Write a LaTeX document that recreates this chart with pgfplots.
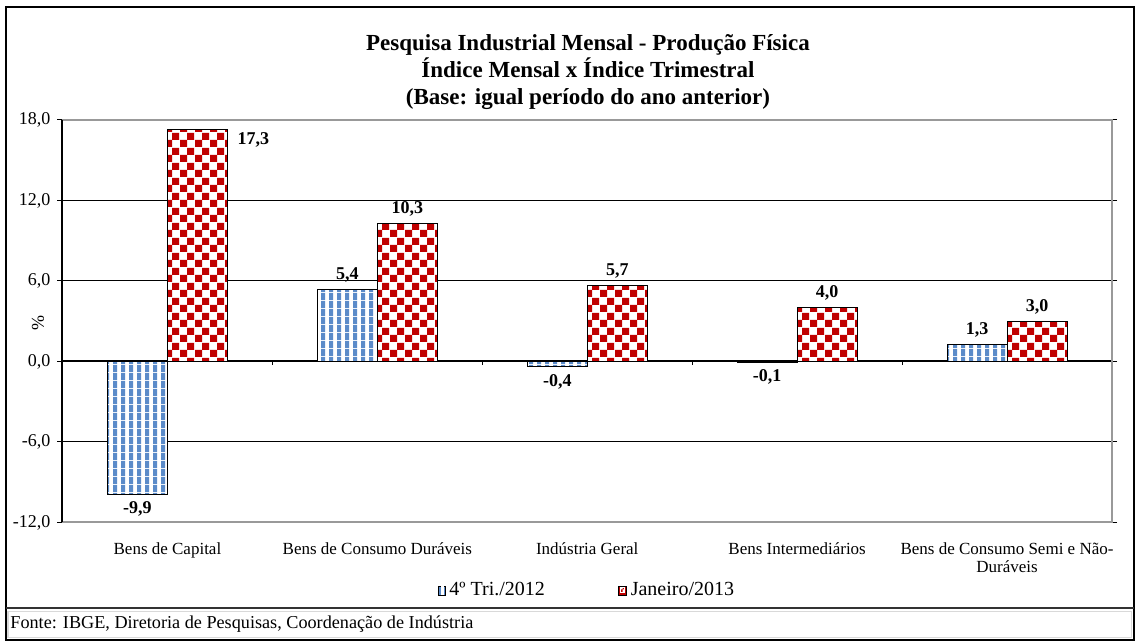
\documentclass[border=0pt]{standalone}
\usepackage{fontspec}
\setmainfont{Liberation Serif}
\usepackage{pgfplots}
\pgfplotsset{compat=1.18}
\usetikzlibrary{patterns}
\definecolor{barblue}{HTML}{5B8BC9}
\definecolor{barred}{HTML}{C00000}
\pgfdeclarepatternformonly{vstripes}{\pgfpointorigin}{\pgfqpoint{3.75pt}{3.75pt}}{\pgfqpoint{3.75pt}{3.75pt}}{%
  \pgfpathrectangle{\pgfpointorigin}{\pgfqpoint{2.2pt}{3.8pt}}\pgfusepath{fill}}
\pgfdeclarepatternformonly{checks}{\pgfpointorigin}{\pgfqpoint{7.5pt}{7.5pt}}{\pgfqpoint{7.5pt}{7.5pt}}{%
  \pgfpathrectangle{\pgfpointorigin}{\pgfqpoint{3.8pt}{3.8pt}}%
  \pgfpathrectangle{\pgfqpoint{3.75pt}{3.75pt}}{\pgfqpoint{3.8pt}{3.8pt}}\pgfusepath{fill}}
\begin{document}
\begin{tikzpicture}
\begin{axis}[
  scale only axis, width=524.75pt, height=201.25pt,
  clip=false,
  xmin=-0.5, xmax=4.5, ymin=-12, ymax=18,
  ybar=0pt, bar width=30pt,
  xtick={0,...,4},
  xticklabels={Bens de Capital, Bens de Consumo Duráveis, Indústria Geral, Bens Intermediários, {Bens de Consumo Semi e Não-\\Duráveis}},
  xticklabel style={align=center, font=\fontsize{8.5}{9}\selectfont, anchor=north, yshift=-4pt},
  x tick style={draw=none},
  ytick={-12,-6,...,18},
  y tick style={black, line width=0.5pt},
  tick align=outside, major tick length=2.5pt,
  yticklabel style={font=\fontsize{9}{10}\selectfont},
  /pgf/number format/fixed, /pgf/number format/fixed zerofill,
  /pgf/number format/precision=1, /pgf/number format/use comma,
  /pgf/number format/assume math mode=true,
  ymajorgrids, grid style={black, line width=0.5pt},
  axis line style={draw=none},
  ylabel={\%},
  every axis y label/.style={at={(axis description cs:-0.0233,0.4957)}, rotate=90, anchor=center, font=\fontsize{9}{10}\selectfont},
  title={Pesquisa Industrial Mensal - Produção Física\\Índice Mensal x Índice Trimestral\\(Base: igual período do ano anterior)},
  title style={at={(axis description cs:0.5007,1.089)}, anchor=center, align=center, font=\bfseries\fontsize{11.5}{13.5}\selectfont},
  legend style={at={(axis description cs:0.5007,-0.169)}, anchor=center, draw=none, legend columns=2,
    font=\fontsize{10}{11}\selectfont, /tikz/every even column/.append style={column sep=34.5pt},
    /tikz/every odd column/.append style={column sep=0pt}},
  nodes near coords={\pgfmathprintnumber[fixed, fixed zerofill, precision=1, use comma, assume math mode=true]{\pgfplotspointmeta}},
  nodes near coords style={font=\bfseries\fontsize{9}{10}\selectfont, text=black},
]
\draw[black, line width=1pt] (axis cs:-0.5,0) -- (axis cs:4.5,0);
\addplot[draw=black, line width=0.5pt, fill=white, postaction={pattern=vstripes, pattern color=barblue},
  legend image code/.code={\draw[draw=black, fill=barblue, line width=0.4pt] (0pt,-2.2pt) rectangle (3.4pt,2.2pt);
    \fill[white] (1.8pt,-2pt) rectangle (2.4pt,2pt);}]
  coordinates {(0,-9.9) (1,5.4) (2,-0.4) (3,-0.1) (4,1.3)};
\addlegendentry{4º Tri./2012}
\addplot[draw=black, line width=0.5pt, fill=white, postaction={pattern=checks, pattern color=barred},
  coordinate style/.condition={\coordindex==0}{anchor=west, xshift=16.5pt, yshift=-5.3pt},
  legend image code/.code={\draw[draw=black, fill=barred, line width=0.4pt] (0pt,-2.2pt) rectangle (4pt,2.2pt);
    \fill[white] (1pt,-1.1pt) rectangle (3pt,1.4pt);}]
  coordinates {(0,17.3) (1,10.3) (2,5.7) (3,4.0) (4,3.0)};
\addlegendentry{Janeiro/2013}
\draw[black] (axis cs:0.5,0) -- ([yshift=-2pt]axis cs:0.5,0);
\draw[black] (axis cs:1.5,0) -- ([yshift=-2pt]axis cs:1.5,0);
\draw[black] (axis cs:2.5,0) -- ([yshift=-2pt]axis cs:2.5,0);
\draw[black] (axis cs:3.5,0) -- ([yshift=-2pt]axis cs:3.5,0);
\draw[black!40, line width=1pt] (rel axis cs:0,0) -- (rel axis cs:1,0) -- (rel axis cs:1,1) -- (rel axis cs:0,1);
\draw[black, line width=1pt] (rel axis cs:0,0) -- (rel axis cs:0,1);
\end{axis}
\begin{scope}[x=0.5pt, y=-0.5pt, shift={(-31.25pt,261.25pt)}]
\path (0,0) rectangle (1135,642);
\draw[line width=1pt] (6,7) rectangle (1134,640.5);
\draw[line width=1pt, black!80] (6,607.7) -- (1134,607.7);
\draw[line width=0.75pt, black!15] (8,611.5) rectangle (1131.5,637.5);
\node[anchor=west, font=\fontsize{9.1}{11}\selectfont, inner sep=0pt] at (10,624.5) {Fonte: IBGE, Diretoria de Pesquisas, Coordenação de Indústria};
\end{scope}
\end{tikzpicture}
\end{document}
